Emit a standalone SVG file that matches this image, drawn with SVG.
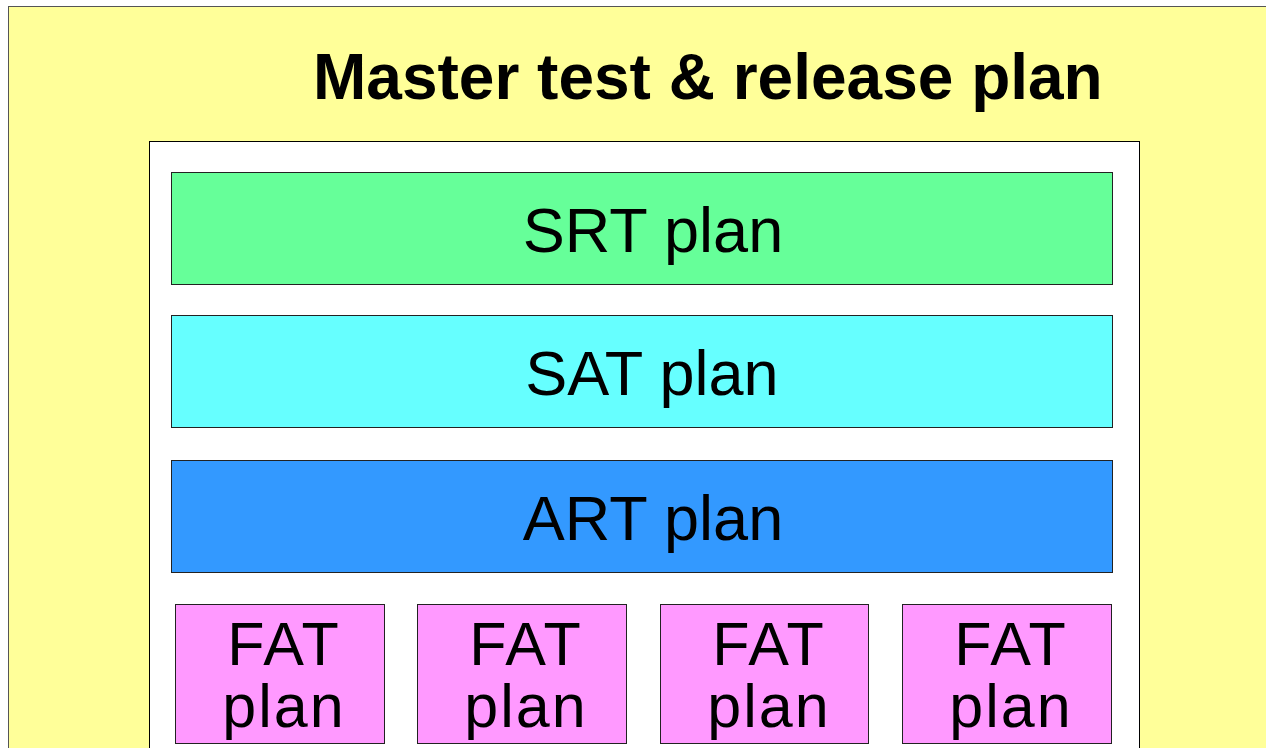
<svg xmlns="http://www.w3.org/2000/svg" width="1266" height="748" viewBox="0 0 1266 748">
<style>
.box{stroke:#222;stroke-width:1}
.lbl{font-family:"Liberation Sans",Arial,sans-serif;font-size:63px;fill:#000}
.fat{font-family:"Liberation Sans",Arial,sans-serif;font-size:61px;letter-spacing:2px;fill:#000}
.title{font-family:"Liberation Sans",Arial,sans-serif;font-size:64px;font-weight:bold;fill:#000}
</style>
<rect width="1266" height="748" fill="#ffffff"/>
<g id="master">
<rect x="8.5" y="6.5" width="1280" height="760" fill="#ffff99" stroke="#555" stroke-width="1"/>
<text class="title" x="313" y="99">Master test &amp; release plan</text>
</g>
<g id="container">
<rect x="149.5" y="141.5" width="990" height="620" fill="#ffffff" stroke="#000" stroke-width="1"/>
</g>
<g id="srt">
<rect class="box" x="171.5" y="172.5" width="941" height="112" fill="#66ff99"/>
<text class="lbl" x="653" y="252" text-anchor="middle">SRT plan</text>
</g>
<g id="sat">
<rect class="box" x="171.5" y="315.5" width="941" height="112" fill="#66ffff"/>
<text class="lbl" x="652" y="395" text-anchor="middle">SAT plan</text>
</g>
<g id="art">
<rect class="box" x="171.5" y="460.5" width="941" height="112" fill="#3399ff"/>
<text class="lbl" x="653" y="540" text-anchor="middle">ART plan</text>
</g>
<g id="fat1">
<rect class="box" x="175.5" y="604.5" width="209" height="139" fill="#ff99ff"/>
<text class="fat" x="284" y="665" text-anchor="middle">FAT</text>
<text class="fat" x="284" y="727" text-anchor="middle">plan</text>
</g>
<g id="fat2">
<rect class="box" x="417.5" y="604.5" width="209" height="139" fill="#ff99ff"/>
<text class="fat" x="526" y="665" text-anchor="middle">FAT</text>
<text class="fat" x="526" y="727" text-anchor="middle">plan</text>
</g>
<g id="fat3">
<rect class="box" x="660.5" y="604.5" width="208" height="139" fill="#ff99ff"/>
<text class="fat" x="769" y="665" text-anchor="middle">FAT</text>
<text class="fat" x="769" y="727" text-anchor="middle">plan</text>
</g>
<g id="fat4">
<rect class="box" x="902.5" y="604.5" width="209" height="139" fill="#ff99ff"/>
<text class="fat" x="1011" y="665" text-anchor="middle">FAT</text>
<text class="fat" x="1011" y="727" text-anchor="middle">plan</text>
</g>
<g id="connectors"></g>
</svg>
